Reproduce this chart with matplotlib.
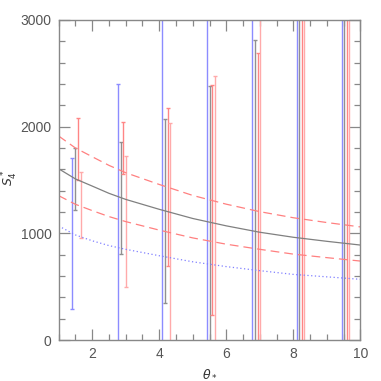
import matplotlib
matplotlib.use("Agg")
import matplotlib.pyplot as plt
import numpy as np
from matplotlib.ticker import MultipleLocator

# ---- data ----
theta_curve = [1, 1.5, 2, 2.5, 3, 4, 5, 6, 7, 8, 9, 10]
s4_model = [1605, 1510, 1443, 1375, 1318, 1225, 1139, 1070, 1010, 963, 925, 890]
s4_upper = [1912, 1800, 1718, 1637, 1568, 1458, 1355, 1273, 1203, 1146, 1101, 1060]
s4_lower = [1353, 1272, 1213, 1157, 1110, 1030, 957, 898, 850, 805, 772, 740]
s4_dotted = [1069, 985, 930, 885, 850, 790, 733, 688, 650, 615, 592, 569]

# error-bar series: x positions, lower and upper ends (bars beyond the frame are clipped)
x_blue = [1.41, 2.76, 4.09, 5.43, 6.78, 8.10, 9.44]
lo_blue = [288, -500, -500, -500, -500, -500, -500]
hi_blue = [1703, 2400, 3500, 3500, 3500, 3500, 3500]

x_gray = [1.49, 2.85, 4.17, 5.51, 6.86, 8.18, 9.52]
lo_gray = [1219, 803, 344, -500, -500, -500, -500]
hi_gray = [1803, 1859, 2069, 2381, 2812, 3500, 3500]

x_red = [1.57, 2.92, 4.25, 5.58, 6.94, 8.25, 9.59]
lo_red = [1500, 1560, 694, 234, -500, -500, -500]
hi_red = [2078, 2047, 2172, 2390, 2688, 3500, 3500]

x_pink = [1.66, 3.00, 4.32, 5.67, 7.01, 8.32, 9.66]
lo_pink = [959, 500, -500, -500, -500, -500, -500]
hi_pink = [1572, 1725, 2031, 2478, 3500, 3500, 3500]

fig = plt.figure(figsize=(3.81, 3.81), dpi=100)
ax = fig.add_axes([0.154, 0.1076, 0.792, 0.840])

def bars(x, lo, hi, color):
    lo = np.array(lo, float); hi = np.array(hi, float)
    y = (lo + hi) / 2
    err = (hi - lo) / 2
    ax.errorbar(x, y, yerr=err, fmt='none', ecolor=color, elinewidth=1.0,
                capsize=1.5, capthick=1.0)

bars(x_blue, lo_blue, hi_blue, '#8c8cff')
bars(x_gray, lo_gray, hi_gray, '#909090')
bars(x_red, lo_red, hi_red, '#ff8585')
bars(x_pink, lo_pink, hi_pink, '#ffaaaa')

ax.plot(theta_curve, s4_model, color='#808080', lw=0.9)
ax.plot(theta_curve, s4_upper, color='#ff8080', lw=0.9, dashes=(7, 4))
ax.plot(theta_curve, s4_lower, color='#ff8080', lw=0.9, dashes=(7, 4))
ax.plot(theta_curve, s4_dotted, color='#8080ff', lw=0.9, dashes=(1, 2))

ax.set_xlim(1, 10)
ax.set_ylim(0, 3000)
ax.xaxis.set_major_locator(MultipleLocator(2))
ax.xaxis.set_minor_locator(MultipleLocator(0.5))
ax.yaxis.set_major_locator(MultipleLocator(1000))
ax.yaxis.set_minor_locator(MultipleLocator(200))
ax.tick_params(which='both', direction='in', top=True, right=True, color='#888888',
               labelcolor='#555555', labelsize=10, pad=5)
ax.tick_params(which='major', length=8, width=0.9)
ax.tick_params(which='minor', length=4, width=0.9)
for s in ax.spines.values():
    s.set_color('#888888')
    s.set_linewidth(1.0)
for lab in ax.get_xticklabels() + ax.get_yticklabels():
    lab.set_family('Liberation Sans')

ax.set_xlabel(r'$\theta_*$', fontsize=9, color='#333333', labelpad=4)
fig.text(10 / 381, 1 - 178 / 381, r'$S^*_4$', fontsize=9, color='#333333',
         rotation=90, ha='center', va='center')

fig.savefig('out.png', dpi=100)
